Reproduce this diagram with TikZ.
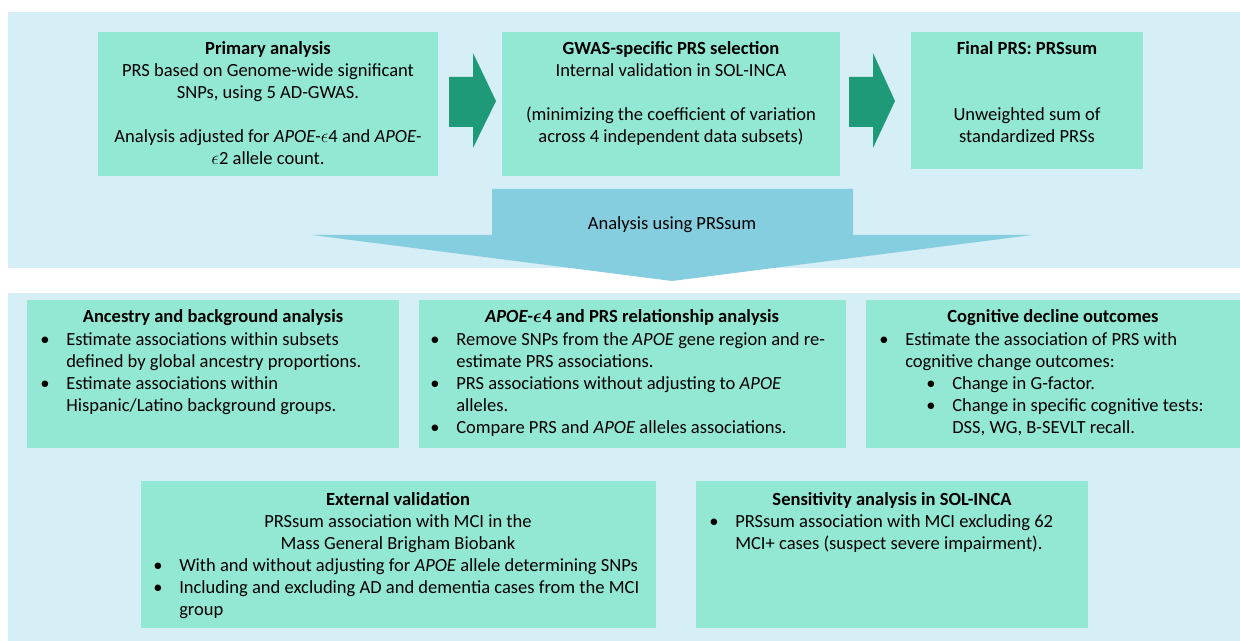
\documentclass[tikz,border=0pt]{standalone}
\usepackage{fontspec}
\setmainfont{Carlito}
\definecolor{panelblue}{RGB}{214,238,245}
\definecolor{boxmint}{RGB}{147,232,212}
\definecolor{arrowteal}{RGB}{31,154,120}
\definecolor{arrowblue}{RGB}{133,206,224}
\newcommand{\bitem}{\makebox[19.5pt][l]{\textbullet}}
\newcommand{\bcont}{\hspace*{19.5pt}}
\newcommand{\eps}{$\epsilon$}

\begin{document}
\begin{tikzpicture}[x=0.75pt,y=0.75pt,yscale=-1,xscale=1,
  panel/.style={fill=panelblue},
  box/.style={fill=boxmint},
  blockarrow/.style={fill=arrowteal},
  bigarrow/.style={fill=arrowblue},
  txt/.style={inner sep=0pt,font=\fontsize{13.9}{16.5}\selectfont}]
\useasboundingbox (0,0) rectangle (1240,641);

%Shape: Rectangle [top and bottom panels]
\fill [panel] (8,12) rectangle (1240,268);
\fill [panel] (8,293) rectangle (1240,641);

%Shape: Rectangle [top row]
\fill [box] (98,32) rectangle (438,176);
\fill [box] (502,32) rectangle (840,176);
\fill [box] (911,32) rectangle (1143,169);

%Shape: Right Arrow
\fill [blockarrow] (449,77) -- (473,77) -- (473,53) -- (496,101) -- (473,148) -- (473,127) -- (449,127) -- cycle ;
\fill [blockarrow] (849,77) -- (873,77) -- (873,53) -- (895,101) -- (873,148) -- (873,127) -- (849,127) -- cycle ;

%Shape: Down Arrow
\fill [bigarrow] (492,189) -- (853,189) -- (853,235) -- (1032,235) -- (672,281) -- (312,235) -- (492,235) -- cycle ;

%Shape: Rectangle [bottom rows]
\fill [box] (27,300) rectangle (399,448);
\fill [box] (419,300) rectangle (846,448);
\fill [box] (866,300) rectangle (1240,448);
\fill [box] (141,481) rectangle (656,628);
\fill [box] (696,481) rectangle (1088,628);

% Text Node
\node (prim) [txt,anchor=north,align=center] at (268,41) {\textbf{Primary analysis}\\PRS based on Genome-wide significant\\SNPs, using 5 AD-GWAS.\\[16.5pt]Analysis adjusted for \textit{APOE-}\eps4 and \textit{APOE-}\\\eps2 allele count.};
% Text Node
\node (gwas) [txt,anchor=north,align=center] at (671,41) {\textbf{GWAS-specific PRS selection}\\Internal validation in SOL-INCA\\[16.5pt](minimizing the coefficient of variation\\across 4 independent data subsets)};
% Text Node
\node (final) [txt,anchor=north,align=center] at (1027,41) {\textbf{Final PRS: PRSsum}\\[33pt]Unweighted sum of\\standardized PRSs};
% Text Node
\node (using) [txt] at (672,225) {Analysis using PRSsum};

% Text Node
\node (anc) [txt,anchor=north] at (213,309) {\textbf{Ancestry and background analysis}};
\node (anclist) [txt,anchor=north west,align=left] at (40,332) {\bitem Estimate associations within subsets\\\bcont defined by global ancestry proportions.\\\bitem Estimate associations within\\\bcont Hispanic/Latino background groups.};
% Text Node
\node (apoe) [txt,anchor=north] at (632,309) {\textbf{\textit{APOE-}{\boldmath\eps}4 and PRS relationship analysis}};
\node (apoelist) [txt,anchor=north west,align=left] at (430,332) {\bitem Remove SNPs from the \textit{APOE} gene region and re-\\\bcont estimate PRS associations.\\\bitem PRS associations without adjusting to \textit{APOE}\\\bcont alleles.\\\bitem Compare PRS and \textit{APOE} alleles associations.};
% Text Node
\node (cog) [txt,anchor=north] at (1053,309) {\textbf{Cognitive decline outcomes}};
\node (coglist) [txt,anchor=north west,align=left] at (879,332) {\bitem Estimate the association of PRS with\\\bcont cognitive change outcomes:\\\hspace*{35.25pt}\bitem Change in G-factor.\\\hspace*{35.25pt}\bitem Change in specific cognitive tests:\\\hspace*{54.75pt}DSS, WG, B-SEVLT recall.};
% Text Node
\node (ext) [txt,anchor=north,align=center] at (398,492) {\textbf{External validation}\\PRSsum association with MCI in the\\Mass General Brigham Biobank};
\node (extlist) [txt,anchor=north west,align=left] at (153,558) {\bitem With and without adjusting for \textit{APOE} allele determining SNPs\\\bitem Including and excluding AD and dementia cases from the MCI\\\bcont group};
% Text Node
\node (sens) [txt,anchor=north] at (892,492) {\textbf{Sensitivity analysis in SOL-INCA}};
\node (senslist) [txt,anchor=north west,align=left] at (709,514) {\bitem PRSsum association with MCI excluding 62\\\bcont MCI+ cases (suspect severe impairment).};

\end{tikzpicture}
\end{document}
